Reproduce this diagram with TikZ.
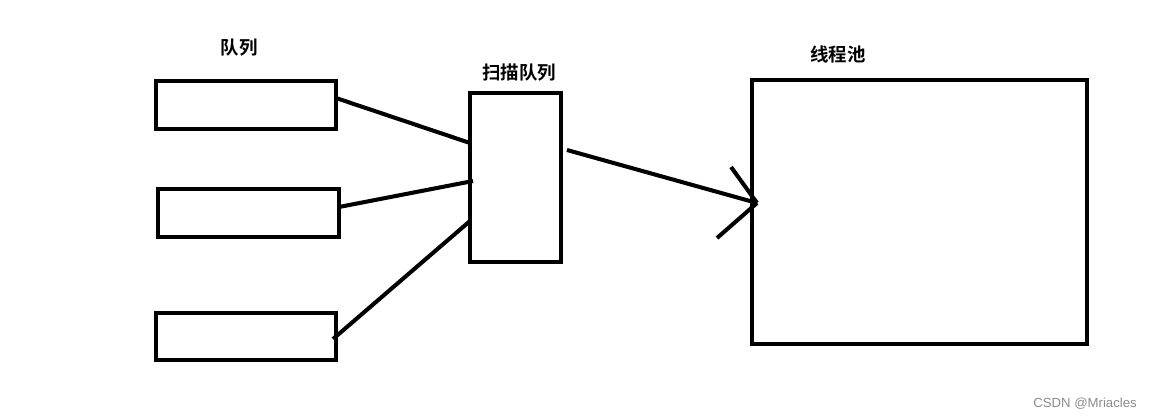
\documentclass[tikz,border=0pt]{standalone}
\usepackage{fontspec}
\newfontfamily\cjk{Noto Sans CJK SC}[BoldFont={* Bold}]
\newfontfamily\wm{Liberation Sans}
\begin{document}
\begin{tikzpicture}[x=0.02cm,y=-0.02cm,
  box/.style={draw=black,line width=2.3pt,minimum width=#1,inner sep=0pt,outer sep=0pt},
  conn/.style={draw=black,line width=2.3pt},
  lbl/.style={font=\cjk\bfseries\fontsize{10.5}{12}\selectfont,inner sep=0pt}]
\useasboundingbox[fill=white] (0,0) rectangle (1151,419);
\node[box=3.6cm,minimum height=0.96cm] (q1) at (246,105) {};
\node[box=3.62cm,minimum height=0.96cm] (q2) at (248.5,213) {};
\node[box=3.6cm,minimum height=0.94cm] (q3) at (246,336.5) {};
\node[box=1.82cm,minimum height=3.38cm] (scan) at (515.5,177.5) {};
\node[box=6.7cm,minimum height=5.28cm] (pool) at (919.5,212) {};
\node[lbl] (l1) at (239,48) {队列};
\node[lbl] (l2) at (519,73) {扫描队列};
\node[lbl] (l3) at (838,54) {线程池};
\node[font=\wm\fontsize{7.5}{9}\selectfont,text=black!45,inner sep=0pt] (wmk) at (1085,404) {CSDN @Mriacles};
\draw[conn] ([yshift=0.14cm]q1.east) -- ([yshift=0.69cm]scan.west);
\draw[conn] ([yshift=0.12cm]q2.east) -- ([xshift=0.06cm,yshift=-0.07cm]scan.west);
\draw[conn] ([xshift=-0.06cm,yshift=-0.05cm]q3.east) -- ([yshift=-0.87cm]scan.west);
\coordinate (tip) at ([xshift=0.1cm,yshift=0.18cm]pool.west);
\draw[conn] ([xshift=0.12cm,yshift=0.55cm]scan.east) -- (tip);
\draw[conn] (tip) -- ++(-0.52cm,0.72cm);
\draw[conn] (tip) -- ++(-0.8cm,-0.7cm);
\end{tikzpicture}
\end{document}
